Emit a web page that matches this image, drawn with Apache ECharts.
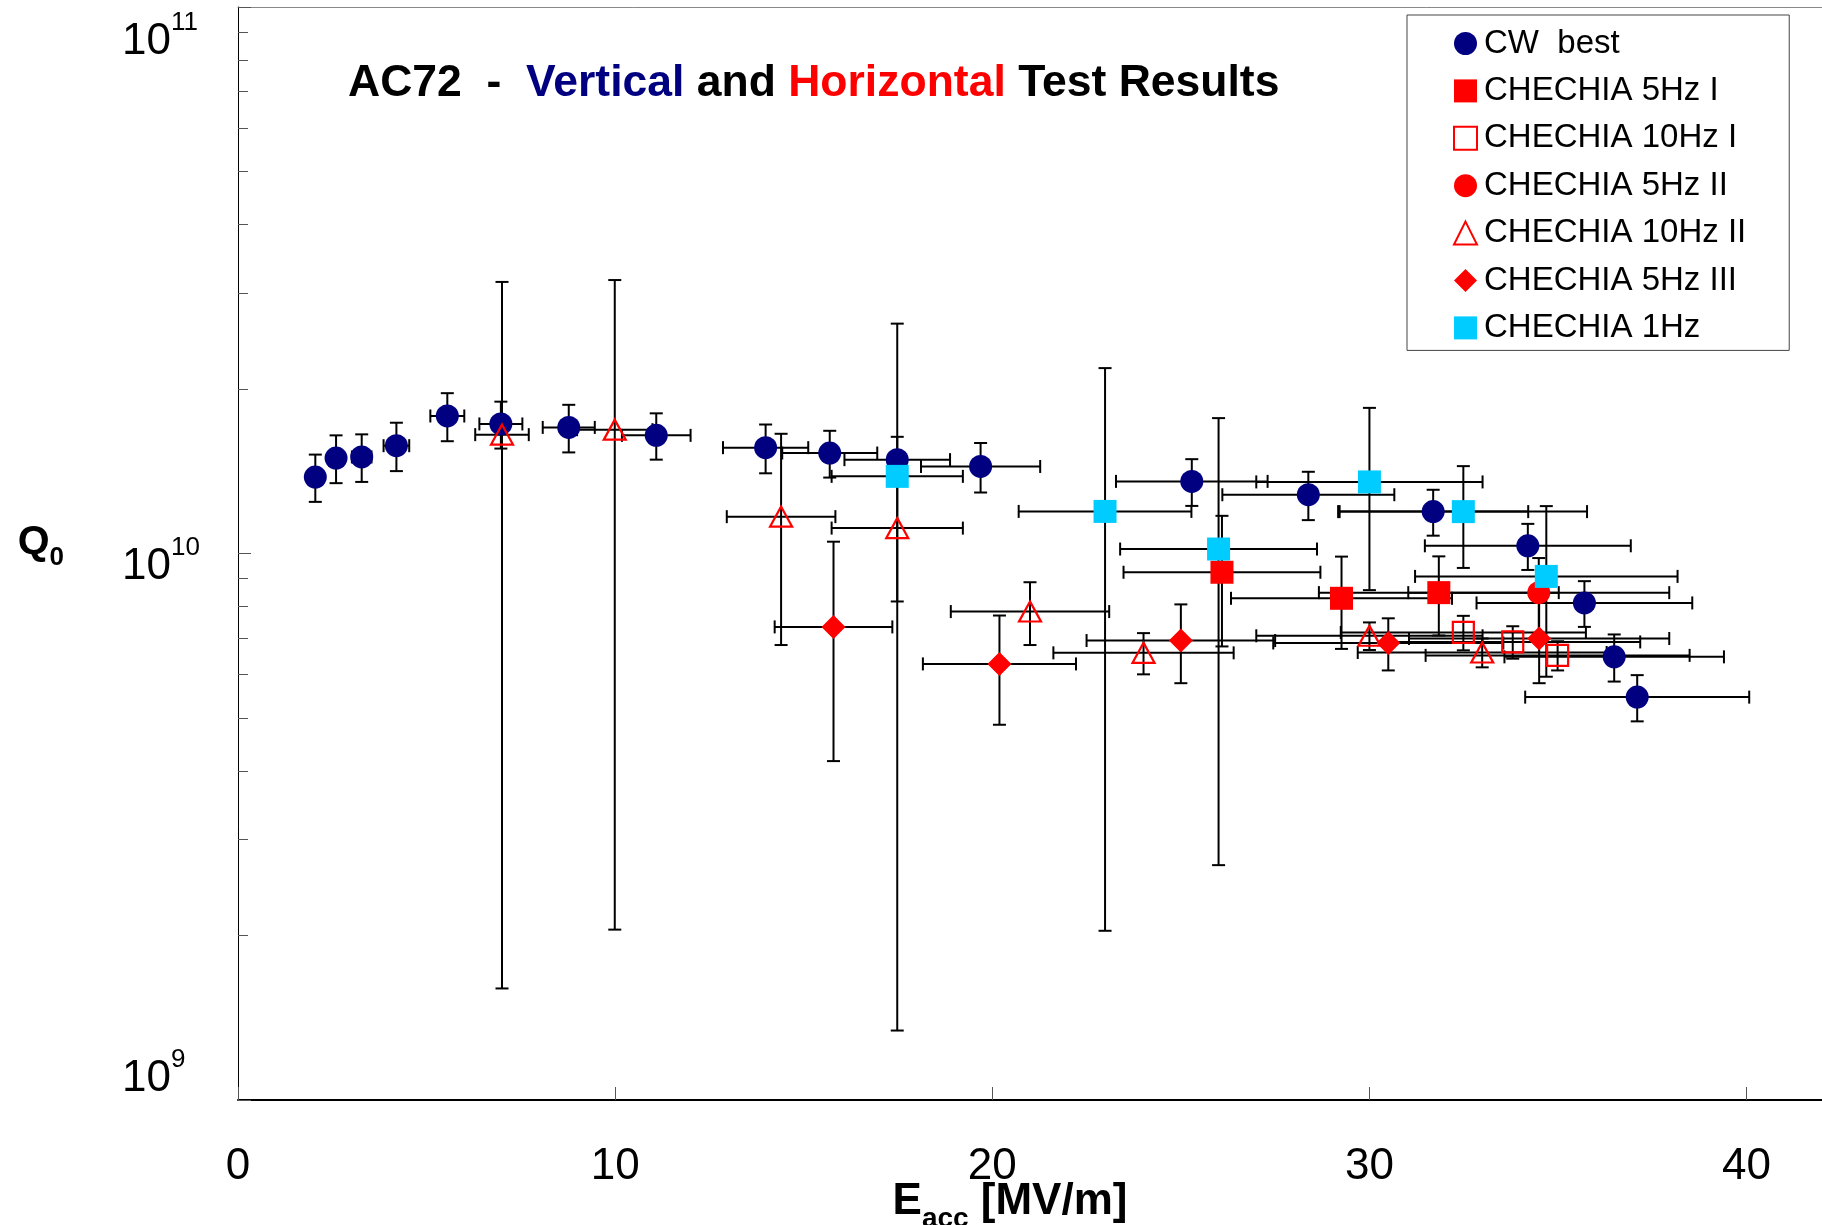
<!DOCTYPE html>
<html><head><meta charset="utf-8">
<script src="https://cdn.jsdelivr.net/npm/echarts@6/dist/echarts.min.js"></script>
<style>html,body{margin:0;padding:0;background:#fff}#c{width:1822px;height:1225px}</style>
</head><body><div id="c"></div>
<script>
// ---- data (E_acc in MV/m, Q0, symmetric errors) ----
const cwE    = [2.05, 2.60, 3.28, 4.20, 5.55, 6.97, 8.77, 11.09, 13.99, 15.69, 17.48, 19.69, 25.29, 28.38, 31.69, 34.20, 35.70, 36.49, 37.10];
const cwQ    = [1.380e10, 1.495e10, 1.502e10, 1.575e10, 1.785e10, 1.726e10, 1.701e10, 1.645e10, 1.562e10, 1.527e10, 1.485e10, 1.443e10, 1.355e10, 1.281e10, 1.193e10, 1.033e10, 8.12e9, 6.47e9, 5.46e9];
const cwQErr = [1.37e9, 1.5e9, 1.5e9, 1.6e9, 1.8e9, 1.7e9, 1.7e9, 1.6e9, 1.6e9, 1.5e9, 1.5e9, 1.5e9, 1.33e9, 1.3e9, 1.15e9, 1.0e9, 7.8e8, 6.4e8, 5.3e8];
const cwEErr = [0.16, 0.21, 0.26, 0.34, 0.45, 0.57, 0.69, 0.91, 1.13, 1.26, 1.40, 1.58, 2.01, 2.28, 2.52, 2.73, 2.86, 2.91, 2.97];

const c5IE    = [26.09, 29.26, 31.84];
const c5IQ    = [9.24e9, 8.28e9, 8.48e9];
const c5IQErr = [2.48e9, 1.59e9, 1.40e9];
const c5IEErr = [2.61, 2.93, 3.18];

const c10IE    = [32.49, 33.80, 34.99];
const c10IQ    = [7.17e9, 6.89e9, 6.51e9];
const c10IQErr = [5.2e8, 4.7e8, 4.0e8];
const c10IEErr = [3.25, 3.38, 3.50];

const c5IIE    = [34.49];
const c5IIQ    = [8.48e9];
const c5IIQErr = [1.33e9];
const c5IIEErr = [3.46];

const c10IIE    = [7.00, 9.99, 14.40, 17.48, 21.00, 24.01, 30.00, 32.99];
const c10IIQ    = [1.65e10, 1.685e10, 1.168e10, 1.113e10, 7.83e9, 6.58e9, 7.07e9, 6.59e9];
const c10IIQErr = [1.49e10, 1.48e10, 4.88e9, 2.96e9, 1.03e9, 5.7e8, 4.1e8, 4.0e8];
const c10IIEErr = [0.71, 1.00, 1.44, 1.74, 2.10, 2.39, 3.00, 3.30];

const c5IIIE    = [15.79, 20.19, 25.00, 30.50, 34.50];
const c5IIIQ    = [7.34e9, 6.28e9, 6.93e9, 6.86e9, 6.99e9];
const c5IIIQErr = [3.17e9, 1.42e9, 1.14e9, 7.5e8, 1.2e9];
const c5IIIEErr = [1.56, 2.03, 2.50, 3.05, 3.45];

const c1E    = [17.48, 22.99, 26.00, 30.00, 32.49, 34.69];
const c1Q    = [1.384e10, 1.194e10, 1.019e10, 1.352e10, 1.193e10, 9.08e9];
const c1QErr = [1.25e10, 9.9e9, 7.5e9, 4.95e9, 2.52e9, 3.13e9];
const c1EErr = [1.74, 2.29, 2.61, 3.00, 3.28, 3.48];

const xTicks = [0, 10, 20, 30, 40];
const seriesNames = ['CW  best', 'CHECHIA 5Hz I', 'CHECHIA 10Hz I', 'CHECHIA 5Hz II', 'CHECHIA 10Hz II', 'CHECHIA 5Hz III', 'CHECHIA 1Hz'];

// ---- build ----
const FONT = 'Liberation Sans, Arial, Helvetica, sans-serif';
const NAVY = '#000080', RED = '#ff0000', CYAN = '#00ccff';
function pts(E, Q) { return E.map((e, i) => [e, Q[i]]); }
function errs(E, Q, QE, EE) { return E.map((e, i) => [e, Q[i], QE[i], EE[i]]); }

function renderErr(params, api) {
  const x = api.value(0), y = api.value(1), ye = api.value(2), xe = api.value(3);
  const c = api.coord([x, y]);
  const t = api.coord([x, y + ye]), b = api.coord([x, y - ye]);
  const l = api.coord([x - xe, y]), r = api.coord([x + xe, y]);
  const h = 6.5;
  const st = {stroke: '#000', lineWidth: 2};
  const mk = (x1, y1, x2, y2) => ({type: 'line', shape: {x1, y1, x2, y2}, style: st});
  return {type: 'group', children: [
    mk(c[0], t[1], c[0], b[1]), mk(c[0] - h, t[1], c[0] + h, t[1]), mk(c[0] - h, b[1], c[0] + h, b[1]),
    mk(l[0], c[1], r[0], c[1]), mk(l[0], c[1] - h, l[0], c[1] + h), mk(r[0], c[1] - h, r[0], c[1] + h)
  ]};
}
function errSeries(name, data) {
  return {type: 'custom', name: name, renderItem: renderErr, data: data, z: 1,
    encode: {x: 0, y: 1}, silent: true, clip: false};
}
function scat(name, data, symbol, size, itemStyle) {
  itemStyle.opacity = 1;
  return {type: 'scatter', name: name, data: data, symbol: symbol, symbolSize: size, z: 3,
    itemStyle: itemStyle, emphasis: {disabled: true}, silent: true};
}

const series = [
  errSeries('e0', errs(cwE, cwQ, cwQErr, cwEErr)),
  errSeries('e1', errs(c5IE, c5IQ, c5IQErr, c5IEErr)),
  errSeries('e2', errs(c10IE, c10IQ, c10IQErr, c10IEErr)),
  errSeries('e3', errs(c5IIE, c5IIQ, c5IIQErr, c5IIEErr)),
  errSeries('e4', errs(c10IIE, c10IIQ, c10IIQErr, c10IIEErr)),
  errSeries('e5', errs(c5IIIE, c5IIIQ, c5IIIQErr, c5IIIEErr)),
  errSeries('e6', errs(c1E, c1Q, c1QErr, c1EErr)),
  scat(seriesNames[0], pts(cwE, cwQ), 'circle', 23, {color: NAVY}),
  scat(seriesNames[1], pts(c5IE, c5IQ), 'rect', 23, {color: RED}),
  scat(seriesNames[2], pts(c10IE, c10IQ), 'rect', 21, {color: 'rgba(255,255,255,0)', borderColor: RED, borderWidth: 2.2}),
  scat(seriesNames[3], pts(c5IIE, c5IIQ), 'circle', 23, {color: RED}),
  scat(seriesNames[4], pts(c10IIE, c10IIQ), 'triangle', [22, 20], {color: 'rgba(255,255,255,0)', borderColor: RED, borderWidth: 2.2}),
  scat(seriesNames[5], pts(c5IIIE, c5IIIQ), 'diamond', 24, {color: RED}),
  scat(seriesNames[6], pts(c1E, c1Q), 'rect', 23, {color: CYAN})
];

const yRich = {};
const yPad = {11: [[69, 0, 0, 0], [0, 0, 28, 0]], 10: [[27, 0, 0, 0], [0, 0, 28, 0]], 9: [[0, 0, 53, 0], [0, 0, 81, 0]]};
Object.keys(yPad).forEach(k => {
  yRich['p' + k] = {fontFamily: FONT, fontSize: 44, color: '#000', verticalAlign: 'bottom', padding: yPad[k][0]};
  yRich['s' + k] = {fontFamily: FONT, fontSize: 26, color: '#000', verticalAlign: 'bottom', padding: yPad[k][1]};
});

const option = {
  animation: false,
  backgroundColor: '#fff',
  title: {
    text: '{k|AC72  -  }{b|Vertical}{k| and }{r|Horizontal}{k| Test Results}',
    left: 343, top: 56,
    textStyle: {rich: {
      k: {fontFamily: FONT, fontSize: 44.5, fontWeight: 'bold', color: '#000'},
      b: {fontFamily: FONT, fontSize: 44.5, fontWeight: 'bold', color: NAVY},
      r: {fontFamily: FONT, fontSize: 44.5, fontWeight: 'bold', color: RED}
    }}
  },
  legend: {
    orient: 'vertical', left: 1407, top: 15,
    backgroundColor: '#fff', borderColor: '#444', borderWidth: 1, borderRadius: 0,
    padding: [12, 43, 6, 46],
    itemWidth: 23, itemHeight: 23, itemGap: 14.4,
    textStyle: {fontFamily: FONT, fontSize: 33, color: '#000', lineHeight: 33, padding: [0, 0, 0, 2]},
    data: seriesNames,
    selectedMode: false
  },
  grid: {left: 238, right: 0, top: 7, bottom: 125, containLabel: false, outerBoundsMode: 'none'},
  xAxis: [{
    type: 'value', min: 0, max: 42, interval: 10,
    name: '{e|E}{s|acc}{u| [MV/m]}', nameLocation: 'middle', nameGap: 80, nameMoveOverlap: false,
    nameTextStyle: {padding: [0, 40, 0, 0], rich: {
      e: {fontFamily: FONT, fontSize: 44, fontWeight: 'bold', color: '#000', verticalAlign: 'bottom', padding: [0, 0, 9, 0]},
      s: {fontFamily: FONT, fontSize: 28, fontWeight: 'bold', color: '#000', verticalAlign: 'bottom'},
      u: {fontFamily: FONT, fontSize: 44, fontWeight: 'bold', color: '#000', verticalAlign: 'bottom', padding: [0, 0, 9, 0]}
    }},
    axisLine: {show: true, onZero: false, lineStyle: {color: '#000', width: 2}},
    axisTick: {show: true, inside: true, length: 13, lineStyle: {color: '#555', width: 1},
      customValues: xTicks},
    axisLabel: {fontFamily: FONT, fontSize: 44, color: '#000', margin: 45,
      customValues: xTicks},
    splitLine: {show: false}
  }, {
    type: 'value', position: 'top', min: 0, max: 42,
    axisLine: {show: true, onZero: false, lineStyle: {color: '#888', width: 1}},
    axisTick: {show: false}, axisLabel: {show: false}, splitLine: {show: false}
  }],
  yAxis: {
    type: 'log', logBase: 10, min: 1e9, max: 1e11, splitNumber: 2,
    name: '{q|Q}{z|0}', nameLocation: 'middle', nameRotate: 0, nameGap: 174, nameMoveOverlap: false,
    nameTextStyle: {padding: [0, 0, 14, 0], rich: {
      q: {fontFamily: FONT, fontSize: 41, fontWeight: 'bold', color: '#000', verticalAlign: 'bottom', padding: [0, 0, 8, 0]},
      z: {fontFamily: FONT, fontSize: 26, fontWeight: 'bold', color: '#000', verticalAlign: 'bottom'}
    }},
    axisLine: {show: true, lineStyle: {color: '#000', width: 1}},
    axisTick: {show: true, inside: true, length: 13, lineStyle: {color: '#555', width: 1}},
    minorTick: {show: true, splitNumber: 9, length: 10, lineStyle: {color: '#555', width: 1}},
    splitLine: {show: false}, minorSplitLine: {show: false},
    axisLabel: {
      align: 'left', margin: 116,
      formatter: function (v) { const e = Math.round(Math.log10(v)); return '{p' + e + '|10}{s' + e + '|' + e + '}'; },
      rich: yRich
    }
  },
  series: series
};
const chart = echarts.init(document.getElementById('c'), null, {renderer: 'canvas'});
chart.setOption(option);
</script></body></html>
